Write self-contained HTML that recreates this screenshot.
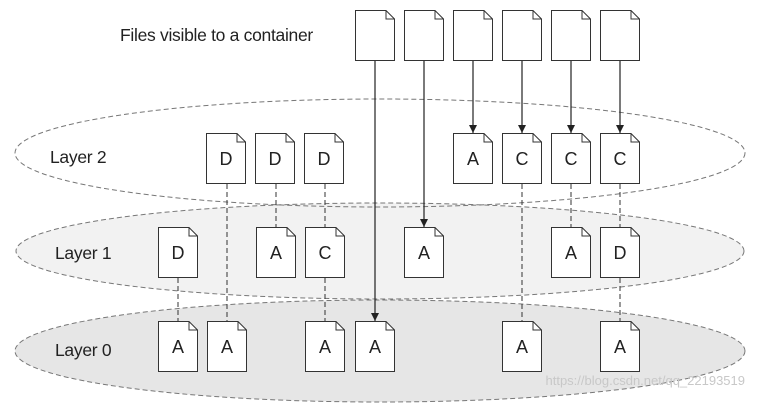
<!DOCTYPE html>
<html><head><meta charset="utf-8"><style>html,body{margin:0;padding:0;background:#fff;}</style></head>
<body>
<svg width="759" height="410" viewBox="0 0 759 410" xmlns="http://www.w3.org/2000/svg" font-family="Liberation Sans, sans-serif">
<defs>
<marker id="ar" viewBox="0 0 10 10" refX="10" refY="5" markerWidth="8" markerHeight="10" orient="auto" markerUnits="userSpaceOnUse"><path d="M0,0 L10,5 L0,10 z" fill="#222"/></marker>
<symbol id="doc" viewBox="0 0 40 51" width="40" height="51" overflow="visible">
<path d="M0.5,0.5 H31 L39.5,9 V50.5 H0.5 Z" fill="#fff" stroke="#333" stroke-width="1"/>
<path d="M31,0.5 V9 H39.5" fill="none" stroke="#333" stroke-width="1"/>
</symbol>
</defs>
<ellipse cx="380" cy="351" rx="365" ry="51" fill="#e6e6e6" stroke="#777" stroke-dasharray="5,3"/>
<ellipse cx="380" cy="251" rx="364" ry="48" fill="#f2f2f2" stroke="#777" stroke-dasharray="5,3"/>
<ellipse cx="380" cy="153" rx="365" ry="54" fill="none" stroke="#777" stroke-dasharray="5,3"/>
<g font-size="17.5" fill="#222" letter-spacing="-0.3">
<text x="120" y="41">Files visible to a container</text>
<text x="50" y="163">Layer 2</text>
<text x="55" y="259">Layer 1</text>
<text x="55" y="356">Layer 0</text>
</g>
<g stroke="#333" stroke-dasharray="5,3" stroke-width="1">
<line x1="227" y1="184" x2="227" y2="321"/>
<line x1="276" y1="184" x2="276" y2="227"/>
<line x1="325" y1="184" x2="325" y2="227"/>
<line x1="325" y1="278" x2="325" y2="321"/>
<line x1="178" y1="278" x2="178" y2="321"/>
<line x1="522" y1="184" x2="522" y2="321"/>
<line x1="571" y1="184" x2="571" y2="227"/>
<line x1="620" y1="184" x2="620" y2="227"/>
<line x1="620" y1="278" x2="620" y2="321"/>
</g>
<g stroke="#222" stroke-width="1.2" marker-end="url(#ar)">
<line x1="375" y1="60" x2="375" y2="321"/>
<line x1="424" y1="60" x2="424" y2="227"/>
<line x1="473" y1="60" x2="473" y2="133"/>
<line x1="522" y1="60" x2="522" y2="133"/>
<line x1="571" y1="60" x2="571" y2="133"/>
<line x1="620" y1="60" x2="620" y2="133"/>
</g>
<g>
<use href="#doc" x="355" y="10"/><use href="#doc" x="404" y="10"/><use href="#doc" x="453" y="10"/>
<use href="#doc" x="502" y="10"/><use href="#doc" x="551" y="10"/><use href="#doc" x="600" y="10"/>
<use href="#doc" x="206" y="133"/><use href="#doc" x="255" y="133"/><use href="#doc" x="304" y="133"/>
<use href="#doc" x="453" y="133"/><use href="#doc" x="502" y="133"/><use href="#doc" x="551" y="133"/><use href="#doc" x="600" y="133"/>
<use href="#doc" x="158" y="227"/><use href="#doc" x="256" y="227"/><use href="#doc" x="305" y="227"/>
<use href="#doc" x="404" y="227"/><use href="#doc" x="551" y="227"/><use href="#doc" x="600" y="227"/>
<use href="#doc" x="158" y="321"/><use href="#doc" x="207" y="321"/><use href="#doc" x="305" y="321"/>
<use href="#doc" x="355" y="321"/><use href="#doc" x="502" y="321"/><use href="#doc" x="600" y="321"/>
</g>
<g font-size="18" fill="#222" text-anchor="middle">
<text x="226" y="165">D</text><text x="275" y="165">D</text><text x="324" y="165">D</text>
<text x="473" y="165">A</text><text x="522" y="165">C</text><text x="571" y="165">C</text><text x="620" y="165">C</text>
<text x="178" y="259">D</text><text x="276" y="259">A</text><text x="325" y="259">C</text>
<text x="424" y="259">A</text><text x="571" y="259">A</text><text x="620" y="259">D</text>
<text x="178" y="353">A</text><text x="227" y="353">A</text><text x="325" y="353">A</text>
<text x="375" y="353">A</text><text x="522" y="353">A</text><text x="620" y="353">A</text>
</g>
<text x="745" y="385" text-anchor="end" font-size="13" fill="#c8c8c8">https://blog.csdn.net/qq_22193519</text>
</svg>
</body></html>
